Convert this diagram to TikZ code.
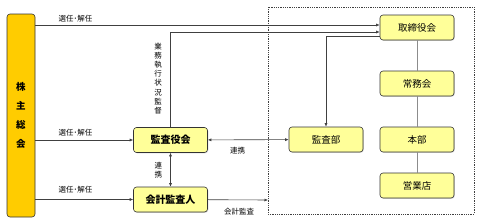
\documentclass[tikz,border=0pt]{standalone}
\usepackage{fontspec}
\setmainfont{Noto Sans CJK JP}
\usepackage{tikz}
\usetikzlibrary{arrows.meta,positioning,shadows}
\definecolor{ink}{HTML}{333333}
\definecolor{linegray}{HTML}{404040}
\definecolor{softgray}{HTML}{8C8C8C}
\definecolor{goldbg}{HTML}{FFCC00}
\definecolor{lemonbg}{HTML}{FFFF99}
\tikzset{
  orgbox/.style={draw=ink,fill=lemonbg,line width=0.6pt,rounded corners=3pt,
                 minimum width=74pt,minimum height=25pt,inner sep=1pt,
                 font=\fontsize{9.5}{10}\selectfont,
                 drop shadow={shadow xshift=0.8pt,shadow yshift=-0.8pt,fill=black!30}},
  keybox/.style={orgbox,font=\fontsize{10}{11}\selectfont\bfseries},
  assembly/.style={draw=ink,fill=goldbg,line width=0.6pt,rounded corners=3pt,
                   minimum width=28pt,minimum height=203pt,inner sep=1pt,
                   align=center,font=\fontsize{9.5}{19}\selectfont\bfseries},
  lbl/.style={font=\fontsize{7.5}{8}\selectfont,inner sep=1pt},
  vlbl/.style={lbl,align=center,font=\fontsize{7.5}{9.1}\selectfont},
  arr/.style={-{Latex[length=3.5pt,width=3pt]},line width=0.6pt,draw=linegray},
  biarr/.style={{Latex[length=3.5pt,width=3pt]}-{Latex[length=3.5pt,width=3pt]},
                line width=0.6pt,draw=linegray},
  link/.style={line width=0.6pt,draw=softgray},
  group/.style={draw=linegray,line width=0.8pt,densely dotted}
}
\begin{document}
\begin{tikzpicture}[x=1pt,y=-1pt]
    \path[use as bounding box] (0,0) rectangle (483,223);

    % bank organisation
    \draw[group] (268,7) rectangle (474,214);
    \coordinate (grpw) at (268,200);

    \node[assembly] (agm) at (21,115.5) {株\\主\\総\\会};
    \node[keybox] (kansa) at (170.5,140) {監査役会};
    \node[keybox] (kaikei) at (170.5,199.5) {会計監査人};
    \node[orgbox] (audit) at (326,139.5) {監査部};
    \node[orgbox] (board) at (417,27.5) {取締役会};
    \node[orgbox] (jomu) at (417,83.5) {常務会};
    \node[orgbox] (honbu) at (417,139.5) {本部};
    \node[orgbox] (branch) at (417,185.5) {営業店};

    % management chain
    \draw[link] (board) -- (jomu);
    \draw[link] (jomu) -- (honbu);
    \draw[link] (honbu) -- (branch);

    % appointments
    \draw[arr] (agm.east |- 0,25) -- node[lbl,above,pos=0.117,yshift=2pt] {選任･解任} (board.west |- 0,25);
    \draw[arr] (agm.east |- kansa) -- node[lbl,above,pos=0.41,yshift=3pt] {選任･解任} (kansa);
    \draw[arr] (agm.east |- kaikei) -- node[lbl,above,pos=0.41,yshift=5pt] {選任･解任} (kaikei);

    % supervision
    \draw[arr] (kansa.north) |- (board.west |- 0,32);
    \node[vlbl] (kantoku) at (158,78.5) {業\\務\\執\\行\\状\\況\\監\\督};
    \draw[arr] (board.west |- 0,36) -| (audit.north);

    % cooperation
    \draw[biarr] (kansa) -- node[lbl,below=6pt,pos=0.37] {連携} (audit);
    \draw[biarr] (kansa) -- node[vlbl,left=7pt] {連\\携} (kaikei);
    \draw[arr] (kaikei) -- node[lbl,below=7pt,pos=0.52] {会計監査} (grpw);
\end{tikzpicture}
\end{document}
